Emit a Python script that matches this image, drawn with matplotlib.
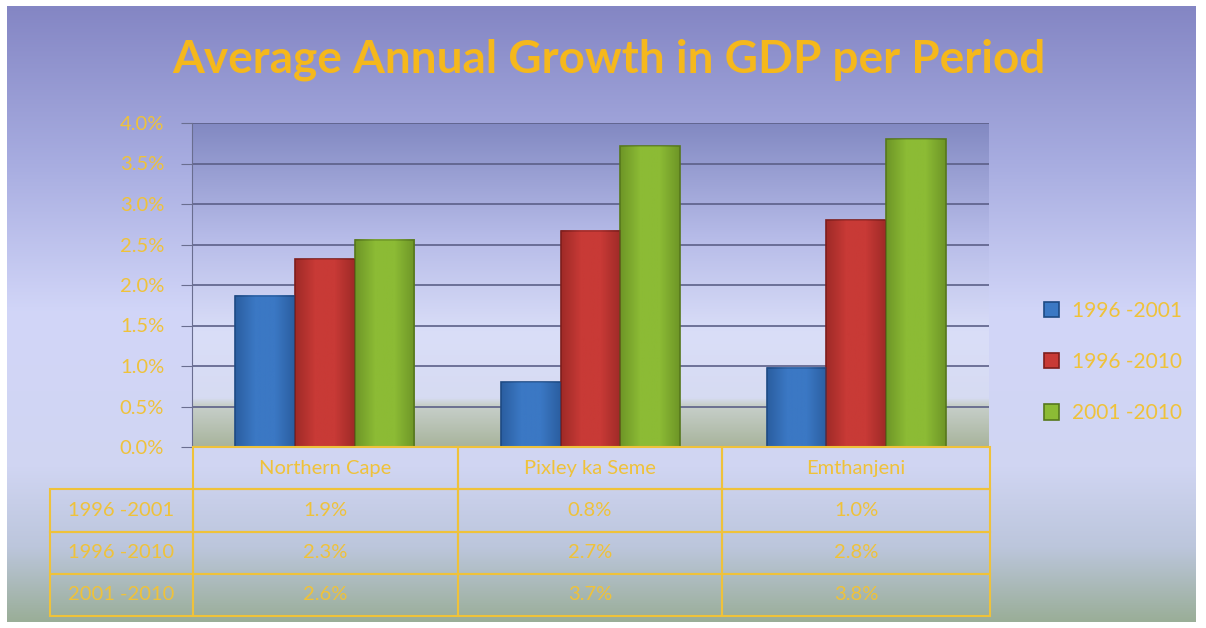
import numpy as np
import matplotlib.pyplot as plt
from matplotlib.colors import LinearSegmentedColormap

plt.rcParams['font.family'] = ['Lato', 'DejaVu Sans']

TITLE = "Average Annual Growth in GDP per Period"
categories = ["Northern Cape", "Pixley ka Seme", "Emthanjeni"]
periods = ["1996 -2001", "1996 -2010", "2001 -2010"]
growth_9601 = [1.87, 0.80, 0.98]
growth_9610 = [2.32, 2.67, 2.80]
growth_0110 = [2.56, 3.71, 3.80]
yticks = [0.0, 0.5, 1.0, 1.5, 2.0, 2.5, 3.0, 3.5, 4.0]

GOLD = "#efc23a"
bar_colors = ["#3b78c4", "#c83a36", "#8cbb35"]
edge_colors = ["#1e4a84", "#7e1e1c", "#56781c"]

W, H = 1206, 628
fig = plt.figure(figsize=(W / 100, H / 100), dpi=100)
fig.patch.set_facecolor("white")


def fbox(x0, y0, x1, y1):
    # pixel box (top-left origin) -> figure fraction rect
    return [x0 / W, 1 - y1 / H, (x1 - x0) / W, (y1 - y0) / H]


# slide background gradient
bg = fig.add_axes(fbox(7, 6, 1196, 622))
bg_cmap = LinearSegmentedColormap.from_list("bg", [
    (0.0, "#8486c4"), (0.25, "#a7ace0"), (0.5, "#d2d6f8"),
    (0.75, "#d0d5f2"), (0.88, "#bcc6dc"), (1.0, "#9aae98")])
bg.imshow(np.linspace(0, 1, 256)[:, None], aspect="auto", cmap=bg_cmap,
          extent=[0, 1, 0, 1], origin="upper")
bg.set_axis_off()

fig.text(0.505, 1 - 60 / H, TITLE, ha="center", va="center",
         fontsize=33, fontweight="bold", color="#f5b81c")

# plot area
ax = fig.add_axes(fbox(192, 123, 989, 447))
pa_cmap = LinearSegmentedColormap.from_list("pa", [
    (0.0, "#8289c2"), (0.35, "#b6bbe8"), (0.65, "#dadef8"),
    (0.85, "#d6dbf2"), (0.87, "#c8d0cc"), (1.0, "#a8b49c")])
ax.imshow(np.linspace(0, 1, 256)[:, None], aspect="auto", cmap=pa_cmap,
          extent=[-0.5, 2.5, 0, 4.0], origin="upper", zorder=0)

x = np.arange(len(categories))
bw = 0.225
series = [growth_9601, growth_9610, growth_0110]
for i, vals in enumerate(series):
    bars = ax.bar(x + (i - 1) * bw, vals, bw, color=bar_colors[i],
                  edgecolor=edge_colors[i], linewidth=1.2, zorder=3,
                  label=periods[i])
    # soft shading to mimic the bevelled bars
    shade = LinearSegmentedColormap.from_list(
        "s%d" % i, [edge_colors[i], bar_colors[i], bar_colors[i], edge_colors[i]])
    for b in bars:
        ax.imshow(np.linspace(0, 1, 64)[None, :], aspect="auto", cmap=shade,
                  alpha=0.55, zorder=4,
                  extent=[b.get_x(), b.get_x() + b.get_width(), 0, b.get_height()])
ax.set_xlim(-0.5, 2.5)
ax.set_ylim(0, 4.0)
ax.set_yticks(yticks)
ax.set_yticklabels(["%.1f%%" % t for t in yticks], color=GOLD, fontsize=14.5)
ax.tick_params(axis="y", length=8, color="#6a6e90", pad=12)
ax.set_xticks([])
ax.yaxis.grid(True, color="#5c6088", linewidth=1.2, zorder=1)
ax.set_axisbelow(True)
for s in ["top", "right", "bottom"]:
    ax.spines[s].set_visible(False)
ax.spines["left"].set_color("#6a6e90")

# legend
ax.legend(loc="center left", bbox_to_anchor=(1.045, 0.262), frameon=False,
          fontsize=15, labelcolor=GOLD, handlelength=0.75, handleheight=0.75,
          labelspacing=1.5, handletextpad=0.6)

# data table
tab_ax = fig.add_axes(fbox(50, 447, 990, 616))
tab_ax.set_axis_off()
cells = [[""] + categories]
for lab, vals in zip(periods, series):
    cells.append([lab] + ["%.1f%%" % v for v in vals])
tbl = tab_ax.table(cellText=cells, colWidths=[143, 265, 264, 268],
                   cellLoc="center", bbox=[0, 0, 1, 1])
tbl.auto_set_font_size(False)
for (r, c), cell in tbl.get_celld().items():
    cell.set_edgecolor(GOLD)
    cell.set_linewidth(1.5)
    cell.set_facecolor("none")
    cell.get_text().set_color(GOLD)
    cell.get_text().set_fontsize(14.5)
tbl[0, 0].visible_edges = ""

fig.savefig("out.png", dpi=100)
